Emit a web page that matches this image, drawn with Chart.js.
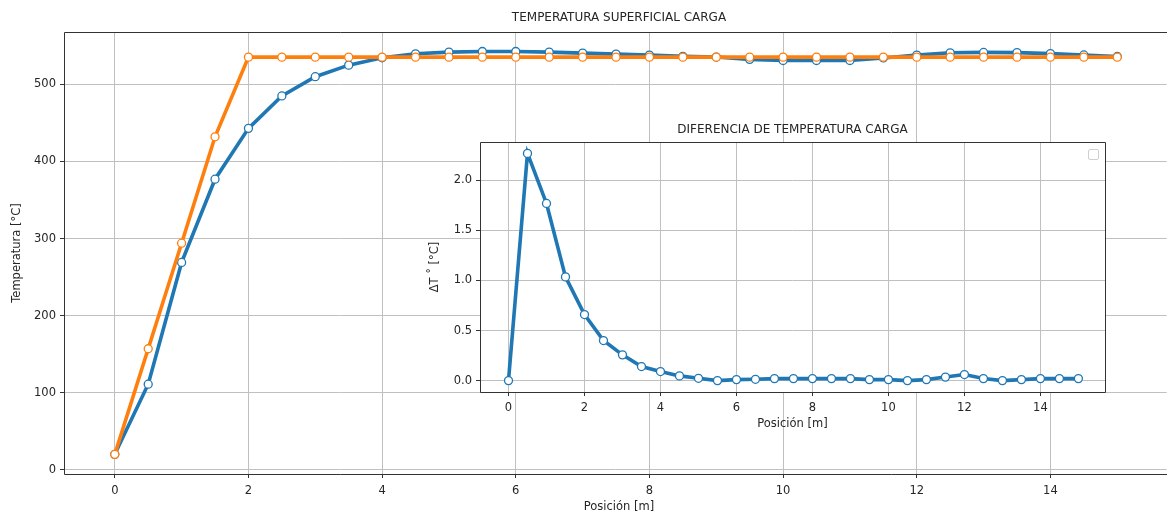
<!DOCTYPE html>
<html>
<head>
<meta charset="utf-8">
<script src="https://cdn.jsdelivr.net/npm/chart.js@4/dist/chart.umd.min.js"></script>
<style>
  html, body { margin: 0; padding: 0; overflow: hidden; background: #fff; width: 1167px; height: 516px; }
  #mainWrap { position: absolute; left: 0; top: 0; }
  #insetWrap { position: absolute; left: 400px; top: 110px; }
  #emptyLegend { position: absolute; left: 1088px; top: 149px; width: 9px; height: 9px;
    border: 1px solid #d0d0d0; border-radius: 2px; background: #fff; }
</style>
</head>
<body>
<div id="mainWrap"><canvas id="mainChart" width="1172" height="516"></canvas></div>
<div id="insetWrap"><canvas id="insetChart" width="720" height="330"></canvas></div>
<div id="emptyLegend"></div>
<script>
// positions along the load [m]
const positions = [0, 0.5, 1, 1.5, 2, 2.5, 3, 3.5, 4, 4.5, 5, 5.5, 6, 6.5, 7, 7.5,
    8, 8.5, 9, 9.5, 10, 10.5, 11, 11.5, 12, 12.5, 13, 13.5, 14, 14.5, 15];

// surface temperature, blue series
const tempBlue = [20, 111, 269, 377, 443, 485, 510, 525, 534.6, 539.7, 541.9, 542.7, 542.7, 541.9, 540.6, 539.3,
    538, 536.5, 535.5, 532.5, 531, 531, 531, 534.3, 538, 541, 541.5, 541.3, 539.9, 538.2, 536.3];

// surface temperature, orange series
const tempOrange = [20, 157, 294, 432, 535.4, 535.4, 535.4, 535.4, 535.4, 535.4, 535.4, 535.4, 535.4, 535.4, 535.4, 535.4,
    535.4, 535.4, 535.4, 535.4, 535.4, 535.4, 535.4, 535.4, 535.4, 535.4, 535.4, 535.4, 535.4, 535.4, 535.4];

// temperature difference (inset)
const deltaT = [0, 2.27, 1.77, 1.036, 0.66, 0.40, 0.257, 0.14, 0.09, 0.047, 0.023, 0.0, 0.01, 0.013, 0.02, 0.02,
    0.02, 0.02, 0.02, 0.01, 0.01, 0.0, 0.01, 0.035, 0.06, 0.02, 0.0, 0.01, 0.02, 0.02, 0.02];

const xTicks = [0, 2, 4, 6, 8, 10, 12, 14];
const mainYTicks = [0, 100, 200, 300, 400, 500];
const insetYTicks = [0, 0.5, 1, 1.5, 2];

const BLUE = '#1f77b4';
const ORANGE = '#ff7f0e';
const FONT = 'DejaVu Sans';
const GRID = '#c0c0c0';
const SPINE = '#333333';

function xy(ys) {
    return positions.map((x, i) => ({ x: x, y: ys[i] }));
}

function series(ys, color, order) {
    return {
        data: xy(ys),
        borderColor: color,
        borderWidth: 3.6,
        tension: 0,
        pointRadius: 4,
        pointBorderWidth: 1.3,
        pointBackgroundColor: '#ffffff',
        pointBorderColor: color,
        order: order
    };
}

function fixedTicks(list) {
    return scale => { scale.ticks = list.map(v => ({ value: v })); };
}

// draws white plot background, spines and free text
function decorPlugin(cfg) {
    return {
        id: 'decor',
        beforeDraw(chart) {
            const { ctx, chartArea: a } = chart;
            if (cfg.fillArea) {
                ctx.save();
                ctx.fillStyle = '#ffffff';
                ctx.fillRect(a.left, a.top, a.right - a.left, a.bottom - a.top);
                ctx.restore();
            }
        },
        afterDraw(chart) {
            const { ctx, chartArea: a } = chart;
            ctx.save();
            ctx.strokeStyle = SPINE;
            ctx.lineWidth = 1;
            const l = Math.round(a.left) + 0.5, t = Math.round(a.top) + 0.5;
            const r = Math.round(a.right) + 0.5, b = Math.round(a.bottom) + 0.5;
            ctx.beginPath();
            if (cfg.rightSpine) {
                ctx.moveTo(r, t); ctx.lineTo(r, b);
            }
            ctx.moveTo(r, t); ctx.lineTo(l, t); ctx.lineTo(l, b); ctx.lineTo(r, b);
            ctx.stroke();
            ctx.fillStyle = '#262626';
            ctx.textAlign = 'center';
            ctx.textBaseline = 'middle';
            ctx.font = cfg.titleSize + 'px "' + FONT + '"';
            ctx.fillText(cfg.title, cfg.centerX || (a.left + a.right) / 2, cfg.titleY);
            ctx.font = cfg.labelSize + 'px "' + FONT + '"';
            ctx.fillText(cfg.xLabel, cfg.centerX || (a.left + a.right) / 2, cfg.xLabelY);
            ctx.translate(cfg.yLabelX, (a.top + a.bottom) / 2);
            ctx.rotate(-Math.PI / 2);
            ctx.fillText(cfg.yLabel, 0, 0);
            ctx.restore();
        }
    };
}

function axes(xMin, xMax, yMin, yMax, yTicks, yWidth, xHeight, xPad) {
    const tickFont = { family: FONT, size: 11.5 };
    return {
        x: {
            type: 'linear', min: xMin, max: xMax,
            afterBuildTicks: fixedTicks(xTicks),
            afterFit: s => { s.height = xHeight; },
            grid: { color: GRID, lineWidth: 1, tickLength: 4, tickColor: SPINE },
            border: { display: false },
            ticks: { color: '#262626', font: tickFont, padding: xPad, maxRotation: 0 }
        },
        y: {
            type: 'linear', min: yMin, max: yMax,
            afterBuildTicks: fixedTicks(yTicks),
            afterFit: s => { s.width = yWidth; },
            grid: { color: GRID, lineWidth: 1, tickLength: 4, tickColor: SPINE },
            border: { display: false },
            ticks: {
                color: '#262626', font: tickFont, padding: 4,
                callback: v => (yTicks === insetYTicks ? v.toFixed(1) : String(v))
            }
        }
    };
}

document.addEventListener('DOMContentLoaded', () => {
    const mainCtx = document.getElementById('mainChart').getContext('2d');
    new Chart(mainCtx, {
        type: 'line',
        data: { datasets: [series(tempBlue, BLUE, 1), series(tempOrange, ORANGE, 0)] },
        options: {
            responsive: false, animation: false, devicePixelRatio: 1,
            layout: { padding: { top: 32, right: 0, left: 0, bottom: 0 } },
            plugins: { legend: { display: false }, tooltip: { enabled: false } },
            scales: axes(-0.76, 15.74, -5.5, 568, mainYTicks, 64, 42, 6)
        },
        plugins: [decorPlugin({
            title: 'TEMPERATURA SUPERFICIAL CARGA', titleY: 18, titleSize: 12,
            xLabel: 'Posición [m]', xLabelY: 507, labelSize: 11.5,
            yLabel: 'Temperatura [°C]', yLabelX: 17, centerX: 619
        })]
    });

    const insetCtx = document.getElementById('insetChart').getContext('2d');
    new Chart(insetCtx, {
        type: 'line',
        data: { datasets: [series(deltaT, BLUE, 0)] },
        options: {
            responsive: false, animation: false, devicePixelRatio: 1,
            layout: { padding: { top: 32, right: 15, left: 0, bottom: 0 } },
            plugins: { legend: { display: false }, tooltip: { enabled: false } },
            scales: axes(-0.75, 15.7, -0.114, 2.384, insetYTicks, 80, 48, 5)
        },
        plugins: [decorPlugin({
            fillArea: true, rightSpine: true,
            title: 'DIFERENCIA DE TEMPERATURA CARGA', titleY: 20, titleSize: 12,
            xLabel: 'Posición [m]', xLabelY: 314, labelSize: 11.5,
            yLabel: 'ΔT ˚ [°C]', yLabelX: 35
        })]
    });
});
</script>
</body>
</html>
